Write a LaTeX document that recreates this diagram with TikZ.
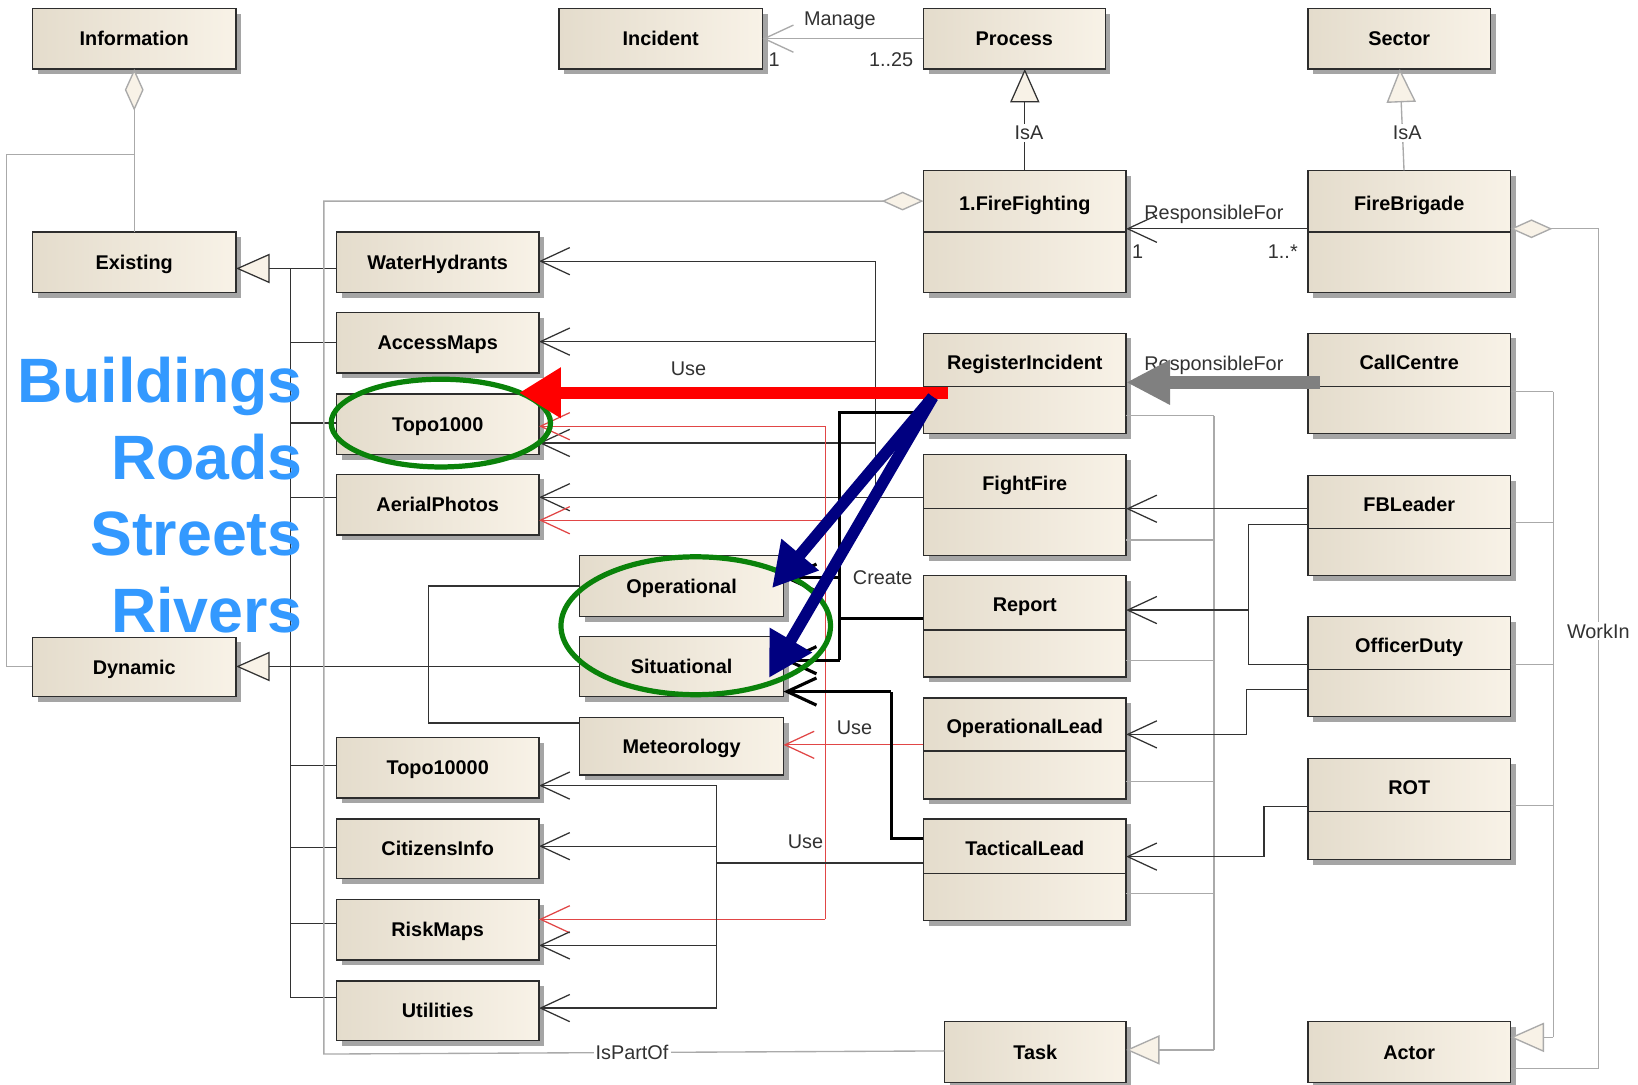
\documentclass[tikz,border=0pt]{standalone}
\usepackage{fontspec}
\setmainfont{Liberation Sans}
\usetikzlibrary{arrows.meta,shadows,calc}
\definecolor{creamL}{RGB}{228,220,204}
\definecolor{creamR}{RGB}{248,242,231}
\definecolor{boxln}{RGB}{45,45,45}
\definecolor{dk}{RGB}{50,50,50}
\definecolor{gr}{RGB}{170,170,170}
\definecolor{lbl}{RGB}{50,50,50}
\definecolor{rd}{RGB}{225,70,70}
\definecolor{bluetxt}{RGB}{51,153,255}
\definecolor{grn}{RGB}{10,130,10}
\definecolor{navyc}{RGB}{0,0,128}
\definecolor{bigred}{RGB}{255,0,0}
\definecolor{biggray}{RGB}{128,128,128}
\newcommand\boxfont{\fontsize{19}{22}\selectfont\bfseries}
\newcommand\lblfont{\fontsize{19}{22}\selectfont}
\tikzset{
 cls/.style={draw=boxln, line width=1.3pt, left color=creamL, right color=creamR,
   drop shadow={shadow xshift=5pt, shadow yshift=-5pt, fill=black!70, opacity=0.5},
   inner sep=0pt, outer sep=0pt, font=\boxfont, text height=13.5pt, text depth=0pt},
 clstxt/.style={font=\boxfont, inner sep=0pt, text height=13.5pt, text depth=0pt},
 dkln/.style={draw=dk, line width=1.2pt},
 grln/.style={draw=gr, line width=1.3pt},
 rdln/.style={draw=rd, line width=1.2pt},
 thk/.style={draw=black, line width=3pt, line join=miter},
 barb/.style={-{Straight Barb[length=28pt,width=26pt]}},
 gentri/.style={-{Triangle[length=32pt,width=28pt,fill=creamR]}},
 aggdia/.style={{Diamond[length=40pt,width=18pt,fill=creamR]}-},
 lbl/.style={font=\lblfont, text=lbl, inner sep=1pt},
 blbl/.style={lbl, fill=white, inner sep=2pt},
 bigtxt/.style={font=\fontsize{60}{60}\selectfont\bfseries, text=bluetxt, anchor=base east, inner sep=0pt},
}
\newcommand\clsone[6]{\node[cls, minimum width={#4-#2}, minimum height={#5-#3}] (#1) at ({(#2+#4)/2},{(#3+#5)/2}) {#6};}
\newcommand\clstwo[7]{%
 \node[cls, minimum width={#4-#2}, minimum height={#5-#3}] (#1) at ({(#2+#4)/2},{(#3+#5)/2}) {};
 \draw[draw=boxln, line width=1.3pt] (#1.west |- 0,#6) -- (#1.east |- 0,#6);
 \node[clstxt] (#1-t) at ({(#2+#4)/2},{(#3+#6)/2+2}) {#7};}
\begin{document}
\begin{tikzpicture}[x=1pt,y=-1pt]
\fill[white] (0,0) rectangle (1568,1038);
\useasboundingbox (0,0) rectangle (1568,1038);
% classes
\clsone{info}{31}{8}{226}{66}{Information}
\clsone{inc}{535}{8}{730}{66}{Incident}
\clsone{proc}{884}{8}{1058}{66}{Process}
\clsone{sect}{1252}{8}{1427}{66}{Sector}
\clsone{exi}{31}{222}{226}{280}{Existing}
\clsone{dyn}{31}{610}{226}{667}{Dynamic}
\clsone{wh}{322}{222}{516}{280}{WaterHydrants}
\clsone{am}{322}{299}{516}{357}{AccessMaps}
\clsone{tk}{322}{377}{516}{435}{Topo1000}
\clsone{ap}{322}{454}{516}{512}{AerialPhotos}
\clsone{ope}{555}{532}{750}{590}{Operational}
\clsone{sit}{555}{609}{750}{667}{Situational}
\clsone{met}{555}{687}{750}{742}{Meteorology}
\clsone{ttk}{322}{706}{516}{764}{Topo10000}
\clsone{ci}{322}{784}{516}{841}{CitizensInfo}
\clsone{rm}{322}{861}{516}{919}{RiskMaps}
\clsone{ut}{322}{939}{516}{996}{Utilities}
\clstwo{ffg}{884}{163}{1078}{280}{222}{1.FireFighting}
\clstwo{fb}{1252}{163}{1446}{280}{222}{FireBrigade}
\clstwo{ri}{884}{319}{1078}{415}{370}{RegisterIncident}
\clstwo{ff}{884}{435}{1078}{532}{487}{FightFire}
\clstwo{rep}{884}{551}{1078}{648}{603}{Report}
\clstwo{ol}{884}{668}{1078}{765}{719}{OperationalLead}
\clstwo{tl}{884}{784}{1078}{881}{836}{TacticalLead}
\clsone{task}{904}{978}{1078}{1036}{Task}
\clstwo{cc}{1252}{319}{1446}{415}{370}{CallCentre}
\clstwo{fbl}{1252}{455}{1446}{551}{506}{FBLeader}
\clstwo{od}{1252}{590}{1446}{686}{641}{OfficerDuty}
\clstwo{rot}{1252}{726}{1446}{823}{777}{ROT}
\clsone{act}{1252}{978}{1446}{1036}{Actor}
% Information aggregation
\draw[grln,aggdia] (info.south) -- (exi.north);
\draw[grln] (128.5,148) -- (6,148) -- (6,638) -- (dyn.west |- 0,638);
% Existing generalization
\draw[dkln] (278,257) -- (278,955);
\draw[dkln,gentri] (278,257) -- (exi.east |- 0,257);
\foreach \n/\y in {wh/257, am/328, tk/405, ap/476, ttk/733, ci/811, rm/884, ut/955}
  \draw[dkln] (278,\y) -- (\n.west |- 0,\y);
% Dynamic generalization
\draw[dkln,gentri] (sit.west |- 0,638) -- (dyn.east |- 0,638);
\draw[dkln] (ope.west |- 0,561) -- (410,561) -- (410,692) -- (met.west |- 0,692);
% Manage
\draw[grln,barb] (proc.west) -- (inc.east);
\node[lbl] at (804,20) {Manage};
\node[lbl] at (741,57) {1};
\node[lbl] at (853,57) {1..25};
% IsA
\draw[dkln,gentri] (ffg.north -| 981,0) -- (proc.south -| 981,0);
\node[blbl] at (985,127) {IsA};
\draw[grln,gentri] (fb.north -| 1344,0) -- (sect.south -| 1340,0);
\node[blbl] at (1347,127) {IsA};
% ResponsibleFor
\draw[dkln,barb] (fb.west |- 0,219) -- (ffg.east |- 0,219);
\node[lbl] at (1162,205) {ResponsibleFor};
\node[lbl] at (1089,241) {1};
\node[lbl] at (1228,241) {1..*};
% IsPartOf
\draw[grln,aggdia] (ffg.west |- 0,192.5) -- (310,192.5) -- (310,1009) -- (task.west |- 0,1006);
\node[blbl] at (605,1007) {IsPartOf};
% WorkIn
\draw[grln,aggdia] (fb.east |- 0,219) -- (1530,219) -- (1530,1023) -- (act.east |- 0,1023);
\node[blbl] at (1530,604) {WorkIn};
% Actor generalization
\draw[grln] (1487,375) -- (1487,993);
\draw[grln,gentri] (1487,993) -- (act.east |- 0,993);
\foreach \n/\y in {cc/375, fbl/500, od/636, rot/771}
  \draw[grln] (\n.east |- 0,\y) -- (1487,\y);
% Task generalization
\draw[grln] (1162,398) -- (1162,1005);
\draw[grln,gentri] (1162,1005) -- (task.east |- 0,1005);
\foreach \n/\y in {ri/398, ff/517, rep/632, ol/748, tl/855}
  \draw[grln] (\n.east |- 0,\y) -- (1162,\y);
% Use from FightFire
\draw[dkln] (838,250) -- (838,476);
\draw[dkln,barb] (ff.west |- 0,476) -- (ap.east |- 0,476);
\foreach \n/\y in {wh/250, am/327, tk/424}
  \draw[dkln,barb] (838,\y) -- (\n.east |- 0,\y);
\node[lbl] at (659,353) {Use};
% Use from OperationalLead (red)
\draw[rdln,barb] (ol.west |- 0,713) -- (met.east |- 0,713);
\draw[rdln] (790,408) -- (790,880);
\foreach \n/\y in {tk/408, ap/498, rm/880}
  \draw[rdln,barb] (790,\y) -- (\n.east |- 0,\y);
\node[lbl] at (818,697) {Use};
% Use from TacticalLead
\draw[dkln] (686,752) -- (686,965);
\draw[dkln] (tl.west |- 0,826) -- (686,826);
\foreach \n/\y in {ttk/752, ci/810, rm/905, ut/965}
  \draw[dkln,barb] (686,\y) -- (\n.east |- 0,\y);
\node[lbl] at (771,806) {Use};
% Create
\draw[thk] (ri.west |- 0,395) -- (804,395) -- (804,632);
\draw[thk,barb] (804,632) -- (sit.east |- 0,632);
\draw[thk,barb] (804,553) -- (ope.east |- 0,553);
\draw[thk] (rep.west |- 0,592) -- (804,592);
\draw[thk] (tl.west |- 0,803) -- (853,803) -- (853,662);
\draw[thk,barb] (853,662) -- (sit.east |- 0,662);
\node[lbl] at (845,553) {Create};
% right side associations
\draw[dkln,barb] (fbl.west |- 0,487) -- (ff.east |- 0,487);
\draw[dkln] (fbl.west |- 0,502) -- (1195,502) -- (1195,636) -- (od.west |- 0,636);
\draw[dkln,barb] (1195,584) -- (rep.east |- 0,584);
\draw[dkln,barb] (od.west |- 0,660) -- (1193,660) -- (1193,703) -- (ol.east |- 0,703);
\draw[dkln,barb] (rot.west |- 0,772) -- (1210,772) -- (1210,820) -- (tl.east |- 0,820);
\node[lbl] at (1162,350) {ResponsibleFor};
% overlays
\draw[grn, line width=5pt] (422,405) ellipse [x radius=105pt, y radius=42pt];
\draw[grn, line width=5pt] (666,599) ellipse [x radius=129pt, y radius=66pt];
\coordinate (redS) at (907,376);
\coordinate (redE) at (497,376);
\draw[bigred, line width=12pt, -{Triangle[length=40pt,width=46pt]}] (redS) -- (redE);
\coordinate (blS) at (893,380);
\coordinate (blA) at (739,563);
\coordinate (blB) at (736,649);
\draw[navyc, line width=11pt, -{Triangle[length=42pt,width=44pt]}] (blS) -- (blA);
\draw[navyc, line width=11pt, -{Triangle[length=42pt,width=44pt]}] (blS) -- (blB);
\coordinate (gyS) at (1264,366);
\draw[biggray, line width=12pt, -{Triangle[length=42pt,width=40pt]}] (gyS) -- (ri.east |- gyS);
% blue words
\node[bigtxt] (wb) at (290,385) {Buildings};
\node[bigtxt] (wr) at (290,459) {Roads};
\node[bigtxt] (ws) at (290,532) {Streets};
\node[bigtxt] (wv) at (290,605) {Rivers};
\end{tikzpicture}
\end{document}
